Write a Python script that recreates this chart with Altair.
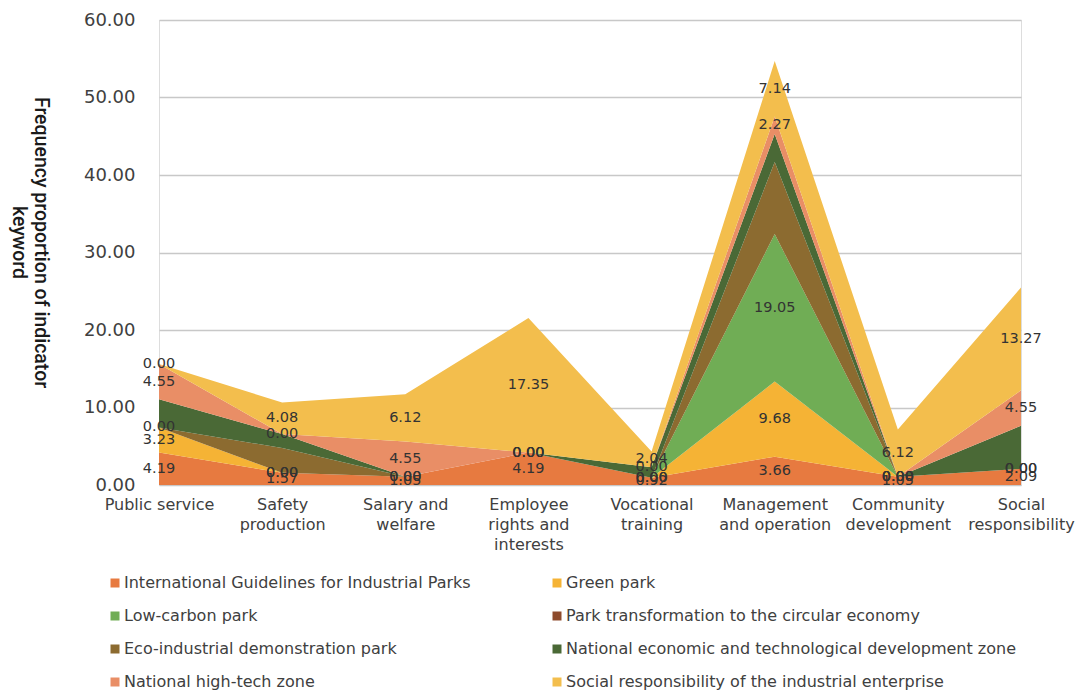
import altair as alt
import pandas as pd

# Industrial-park indicator categories (x axis), line breaks as drawn
categories = [
    "Public service",
    "Safety\nproduction",
    "Salary and\nwelfare",
    "Employee\nrights and\ninterests",
    "Vocational\ntraining",
    "Management\nand operation",
    "Community\ndevelopment",
    "Social\nresponsibility",
]

# Series, bottom of the stack first
series = [
    "International Guidelines for Industrial Parks",
    "Green park",
    "Low-carbon park",
    "Park transformation to the circular economy",
    "Eco-industrial demonstration park",
    "National economic and technological development zone",
    "National high-tech zone",
    "Social responsibility of the industrial enterprise",
]

colors = ["#E77A40", "#F5B335", "#70AD55", "#8E4B2C",
          "#8C6B30", "#4A6936", "#E98E66", "#F3BE4D"]

# Frequency proportion (%) of each keyword set per category
intl = [4.19, 1.57, 1.05, 4.19, 0.92, 3.66, 1.05, 2.09]
green = [3.23, 0.00, 0.00, 0.00, 0.00, 9.68, 0.00, 0.00]
low_carbon = [0.00, 0.00, 0.00, 0.00, 0.00, 19.05, 0.00, 0.00]
circular = [0.00, 0.00, 0.00, 0.00, 0.00, 0.00, 0.00, 0.00]
eco_industrial = [0.00, 3.20, 0.00, 0.00, 0.00, 9.30, 0.00, 0.00]
national_econ = [3.64, 1.80, 0.00, 0.00, 1.36, 3.60, 0.00, 5.57]
high_tech = [4.55, 0.00, 4.55, 0.00, 0.00, 2.27, 0.00, 4.55]
social = [0.00, 4.08, 6.12, 17.35, 2.04, 7.14, 6.12, 13.27]

values = [intl, green, low_carbon, circular, eco_industrial,
          national_econ, high_tech, social]

# Series that carry value labels
labelled = [series[0], series[1], series[2], series[6], series[7]]

rows = []
for k, (name, vals) in enumerate(zip(series, values)):
    for cat, v in zip(categories, vals):
        rows.append({"category": cat, "series": name, "order": k, "value": v})
df = pd.DataFrame(rows)

FONT = "DejaVu Sans"
TITLE_FONT = "Roboto"

x_enc = alt.X(
    "category:O",
    sort=categories,
    scale=alt.Scale(padding=0),
    axis=alt.Axis(
        title=None,
        labelAngle=0,
        labelExpr="split(datum.label, '\\n')",
        labelFont=FONT,
        labelFontSize=16,
        labelColor="#404040",
        labelLineHeight=20,
        labelBaseline="top",
        labelPadding=11,
        ticks=False,
        domain=False,
        grid=False,
    ),
)

base = alt.Chart(df).transform_stack(
    stack="value",
    groupby=["category"],
    as_=["y0", "y1"],
    sort=[alt.SortField("order", order="ascending")],
)

areas = base.mark_area(opacity=1).encode(
    x=x_enc,
    y=alt.Y(
        "y1:Q",
        scale=alt.Scale(domain=[0, 60], nice=False),
        axis=alt.Axis(
            values=[0, 10, 20, 30, 40, 50, 60],
            format=".2f",
            title=["Frequency proportion of indicator", "keyword"],
            titleAngle=90,
            titleFont=TITLE_FONT,
            titleFontSize=19.5,
            titleFontWeight=500,
            titleColor="#1a1a1a",
            titleX=-119,
            titleY=222,
            titleAlign="center",
            titleBaseline="middle",
            titleLineHeight=22,
            labelFont=FONT,
            labelFontSize=18,
            labelColor="#404040",
            labelPadding=24,
            ticks=False,
            domain=False,
            gridColor="#c8c8c8",
            gridWidth=1.5,
        ),
    ),
    y2="y0:Q",
    color=alt.Color(
        "series:N",
        scale=alt.Scale(domain=series, range=colors),
        legend=alt.Legend(
            title=None,
            orient="none",
            direction="horizontal",
            legendX=-52,
            legendY=555,
            columns=2,
            columnPadding=78,
            rowPadding=17,
            symbolType="square",
            symbolSize=81,
            symbolStrokeWidth=0,
            labelFont=FONT,
            labelFontSize=16,
            labelColor="#404040",
            labelLimit=0,
            labelOffset=1,
            padding=0,
        ),
    ),
    order=alt.Order("order:Q"),
)

labels = base.transform_filter(
    alt.FieldOneOfPredicate(field="series", oneOf=labelled)
).transform_calculate(
    mid="(datum.y0 + datum.y1) / 2"
).mark_text(
    font=FONT, fontSize=14.5, color="#333333", align="center", baseline="middle"
).encode(
    x=alt.X("category:O", sort=categories, scale=alt.Scale(padding=0)),
    y=alt.Y("mid:Q", scale=alt.Scale(domain=[0, 60], nice=False)),
    text=alt.Text("value:Q", format=".2f"),
)

chart = alt.layer(areas, labels).properties(
    width=862,
    height=465,
    autosize=alt.AutoSizeParams(type="none"),
    padding={"left": 159, "top": 20, "right": 58, "bottom": 208},
).configure_view(stroke=None).configure(background="white")

chart.save("out.html", embed_options={"renderer": "svg", "actions": False})
